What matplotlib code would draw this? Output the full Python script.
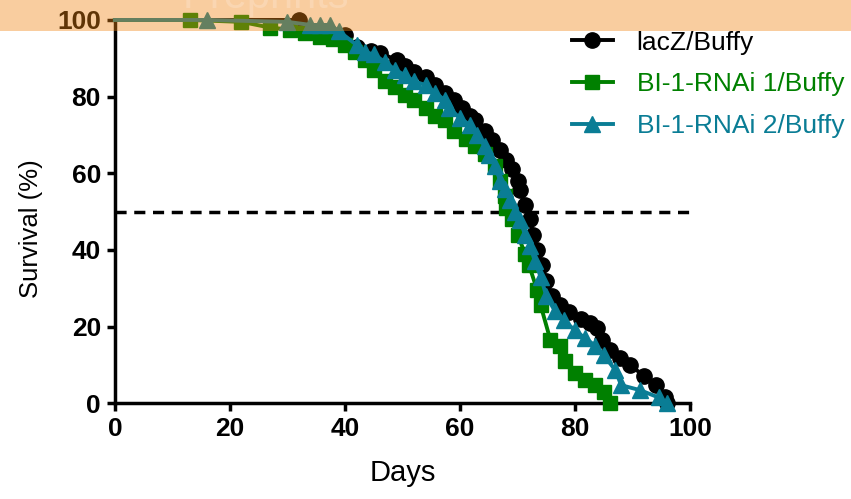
import numpy as np
import matplotlib
matplotlib.use("Agg")
import matplotlib.pyplot as plt
from matplotlib.patches import Rectangle

# survival curves (day, percent surviving)
lacZDays = [0, 32, 37, 40, 42, 44.5, 46, 49, 50.5, 52, 54, 55.7, 57.4, 59, 60.4,
            61.7, 62.6, 64.3, 65.6, 67, 68, 69, 70, 70.4, 71.3, 72.2, 72.7, 73.4,
            74.3, 75, 76, 77.4, 79, 81, 82.6, 83.8, 84.7, 86, 87.8, 89.6, 92, 94,
            95.7, 96]
lacZSurv = [100, 100, 97, 96, 93, 92, 91.5, 89.5, 88, 86.5, 85, 83, 81, 79, 77,
            75, 74, 71, 68.7, 66, 63.5, 61, 58, 55.6, 51.7, 48, 44, 40,
            36, 32, 28, 25.6, 23.8, 22, 21, 19.6, 16.5, 14, 11.7, 10, 7, 4.7,
            1.6, 0]

rnai1Days = [0, 13, 22, 27, 30.4, 33, 35.6, 38, 40, 41.7, 43.5, 45, 47, 48.7,
             50.4, 52, 54, 55.7, 57.4, 59, 61, 62.6, 64.3, 66, 67, 67.8, 68, 69,
             70, 71.3, 72, 73.4, 74, 75.7, 77.4, 78.3, 80, 81.7, 83.5, 85, 86]
rnai1Surv = [100, 100, 99.5, 98, 97.5, 96.5, 95.5, 95, 93.5, 91.6, 89.5, 87, 84,
             82.5, 80.4, 79, 77, 75, 74, 71, 69, 67, 65, 62, 58, 54, 51, 48,
             44, 39, 36, 29.5, 25.6, 16.5, 15, 11, 8, 6, 4.7, 3, 0]

rnai2Days = [0, 16, 30, 34, 35.6, 37.4, 39, 42, 43.5, 45, 47, 48.7, 50.4, 52, 54,
             55.7, 57.4, 58, 60, 61.7, 63, 64.3, 65, 66, 67, 67.8, 68.7, 69.6,
             70.4, 71.3, 72.2, 73, 74, 75, 76.5, 78, 80, 81.7, 83.5, 85, 87, 88,
             91.3, 94.5, 96]
rnai2Surv = [100, 100, 99.5, 98.7, 98.7, 98.7, 97, 93.5, 91.6, 91, 89, 87, 85.6,
             84, 83, 81, 79, 77, 74.4, 72.6, 70, 67, 64.8, 62, 58, 56, 53, 50,
             47.8, 44, 41, 37, 33, 28, 24, 21.6, 19, 17, 15, 12.5, 8.6, 4.7,
             3.4, 1.5, 0]

labels = ["lacZ/Buffy", "BI-1-RNAi 1/Buffy", "BI-1-RNAi 2/Buffy"]
colors = ["#000000", "#008000", "#0A7D95"]
markers = ["o", "s", "^"]
markerSizes = [11, 10, 11]
ticks = [0, 20, 40, 60, 80, 100]


def PlotCurve(ax, days, surv, color, marker, size, label):
    # first point is the day-0 start, no symbol there
    ax.plot(days, surv, color=color, lw=2.8, marker=marker, markersize=size,
            markevery=list(range(1, len(days))), label=label, clip_on=False,
            zorder=3)


def run():
    plt.rcParams['font.family'] = ['Liberation Sans', 'DejaVu Sans']
    fig = plt.figure(figsize=(8.51, 4.99), dpi=100)
    ax = fig.add_axes([0.135, 0.192, 0.676, 0.768])
    allDays = [lacZDays, rnai1Days, rnai2Days]
    allSurv = [lacZSurv, rnai1Surv, rnai2Surv]
    for d, s, c, m, ms, l in zip(allDays, allSurv, colors, markers,
                                 markerSizes, labels):
        PlotCurve(ax, d, s, c, m, ms, l)
    # median survival line
    ax.plot([0, 100], [50, 50], color='k', lw=2.5, ls=(0, (3.2, 2.2)),
            clip_on=False, zorder=2)
    ax.set_xlim(0, 100)
    ax.set_ylim(0, 100)
    ax.set_xticks(ticks)
    ax.set_yticks(ticks)
    for side in ["top", "right"]:
        ax.spines[side].set_visible(False)
    for side in ["left", "bottom"]:
        ax.spines[side].set_linewidth(2.5)
    ax.tick_params(width=2.5, length=6, labelsize=19, pad=4)
    for lab in ax.get_xticklabels() + ax.get_yticklabels():
        lab.set_fontweight('bold')
    ax.set_xlabel("Days", fontsize=21, labelpad=13)
    ax.set_ylabel("Survival (%)", fontsize=18.5)
    ax.yaxis.set_label_coords(-0.125, 0.455)
    leg = ax.legend(loc='upper left', bbox_to_anchor=(0.776, 1.0),
                    frameon=False, fontsize=19, handlelength=1.55,
                    handletextpad=0.9, labelspacing=0.68, borderaxespad=0)
    for txt, c in zip(leg.get_texts(), colors):
        txt.set_color(c)
    # watermark band across the top
    fig.add_artist(Rectangle((0, 0.938), 1, 0.062, transform=fig.transFigure,
                             facecolor='#F08411', alpha=0.4, lw=0, zorder=10))
    fig.text(0.215, 0.984, "Preprints", color='white', alpha=0.2,
             fontsize=30, va='baseline', zorder=11)
    fig.savefig("out.png", dpi=100)


if __name__ == "__main__":
    run()
